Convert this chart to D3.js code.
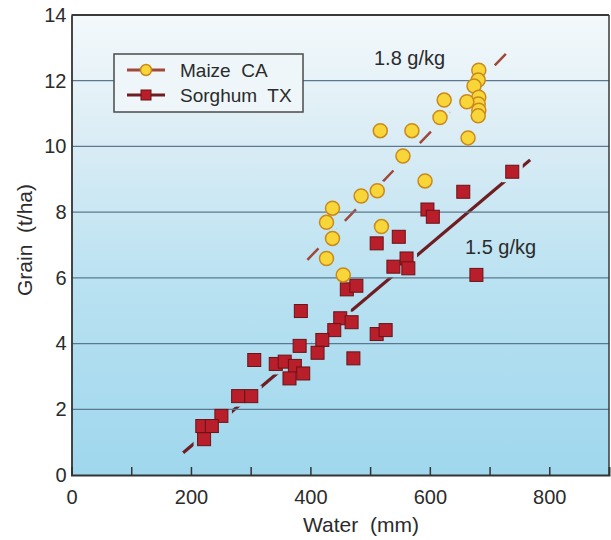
<!DOCTYPE html>
<html><head><meta charset="utf-8">
<script src="https://cdn.jsdelivr.net/npm/d3@7"></script>
<style>
html,body{margin:0;padding:0;background:#fff;}
svg text{font-family:"Liberation Sans",Arial,Helvetica,sans-serif;fill:#2b2b2b;white-space:pre;}
</style></head>
<body>
<svg id="c" width="611" height="540"></svg>
<script>
// ---- data ----
const maizeWater = [682,681,674,682,681,682,681,662,624,617,517,570,555,664,592,512,485,437,427,437,427,519,455];
const maizeGrain = [12.32,12.02,11.84,11.5,11.29,11.1,10.93,11.36,11.41,10.88,10.48,10.48,9.71,10.26,8.95,8.65,8.49,8.12,7.69,7.20,6.59,7.56,6.09];
const sorghumWater = [738,656,596,605,548,511,561,539,564,678,461,477,384,450,469,440,420,412,382,472,511,526,306,342,357,374,388,365,279,301,251,219,235,222];
const sorghumGrain = [9.23,8.62,8.08,7.86,7.25,7.05,6.59,6.34,6.29,6.09,5.65,5.76,4.99,4.77,4.65,4.41,4.11,3.72,3.93,3.55,4.29,4.41,3.50,3.38,3.45,3.32,3.09,2.94,2.40,2.40,1.80,1.49,1.49,1.09];
const maizeLineWater = [395,737];
const maizeLineGrain = [6.55,13.0];
const sorghumLineWater = [187,768];
const sorghumLineGrain = [0.68,9.59];
const xTickLabels = [0,200,400,600,800];
const xTickMarks = [100,200,300,400,500,600,700,800];
const yTicks = [0,2,4,6,8,10,12,14];
const yGrid = [2,4,6,8,10,12];
const seriesNames = ["Maize  CA","Sorghum  TX"];
const lineLabels = ["1.8 g/kg","1.5 g/kg"];

const svg = d3.select("#c");
const x = d3.scaleLinear().domain([0,900]).range([71.5,609]);
const y = d3.scaleLinear().domain([0,14]).range([475,15]);

const defs = svg.append("defs");
const g = defs.append("linearGradient").attr("id","bg").attr("gradientUnits","userSpaceOnUse")
  .attr("x1",0).attr("x2",0).attr("y1",y(14)).attr("y2",y(0));
g.append("stop").attr("offset","0%").attr("stop-color","#f4f9fb");
g.append("stop").attr("offset","25%").attr("stop-color","#dcedf5");
g.append("stop").attr("offset","60%").attr("stop-color","#b8e1f1");
g.append("stop").attr("offset","100%").attr("stop-color","#9fd7ed");

// plot background
svg.append("rect").attr("x",x(0)).attr("y",y(14)).attr("width",x(900)-x(0)).attr("height",y(0)-y(14)).attr("fill","url(#bg)");

// fit lines
const maizeColor = "#a0483a", sorghumColor = "#6e1e22";
svg.append("line").attr("x1",x(maizeLineWater[0])).attr("y1",y(maizeLineGrain[0]))
  .attr("x2",x(maizeLineWater[1])).attr("y2",y(maizeLineGrain[1]))
  .attr("stroke",maizeColor).attr("stroke-width",2.5).attr("stroke-dasharray","16,11");
svg.append("line").attr("x1",x(sorghumLineWater[0])).attr("y1",y(sorghumLineGrain[0]))
  .attr("x2",x(sorghumLineWater[1])).attr("y2",y(sorghumLineGrain[1]))
  .attr("stroke",sorghumColor).attr("stroke-width",3.2);

const maize = maizeWater.map((w,i)=>({w,g:maizeGrain[i]}));
const sorghum = sorghumWater.map((w,i)=>({w,g:sorghumGrain[i]}));
const sq = 13, r = 7;

// halos
svg.append("g").selectAll("rect").data(sorghum).join("rect")
  .attr("x",d=>x(d.w)-sq/2-4).attr("y",d=>y(d.g)-sq/2-4).attr("width",sq+8).attr("height",sq+8).attr("fill","url(#bg)");
svg.append("g").selectAll("circle").data(maize).join("circle")
  .attr("cx",d=>x(d.w)).attr("cy",d=>y(d.g)).attr("r",r+4).attr("fill","url(#bg)");

// gridlines
svg.append("g").selectAll("line").data(yGrid).join("line")
  .attr("x1",x(0)).attr("x2",x(900)).attr("y1",d=>y(d)).attr("y2",d=>y(d))
  .attr("stroke","#5b7890").attr("stroke-width",1.2);

// frame
svg.append("line").attr("x1",x(0)).attr("x2",x(900)).attr("y1",y(14)).attr("y2",y(14)).attr("stroke","#3a3a3a").attr("stroke-width",1.8);
svg.append("line").attr("x1",x(900)).attr("x2",x(900)).attr("y1",y(14)).attr("y2",y(0)).attr("stroke","#3a3a3a").attr("stroke-width",1.5);

// axes
const xa = svg.append("g").attr("transform",`translate(0,${y(0)})`)
  .call(d3.axisBottom(x).tickValues(xTickMarks).tickSize(-8).tickFormat(""));
xa.select(".domain").attr("stroke","#333").attr("stroke-width",2);
xa.selectAll(".tick line").attr("stroke","#333").attr("stroke-width",1.5);
const xl = svg.append("g").attr("transform",`translate(0,${y(0)})`)
  .call(d3.axisBottom(x).tickValues(xTickLabels).tickSize(0).tickPadding(15).tickFormat(d3.format("d")));
xl.select(".domain").remove();
xl.selectAll("text").attr("font-size",20).style("font-family","Liberation Sans, Arial, sans-serif").attr("fill","#2b2b2b");

const ya = svg.append("g").attr("transform",`translate(${x(0)},0)`)
  .call(d3.axisLeft(y).tickValues(yTicks).tickSize(0).tickPadding(5).tickFormat(d3.format("d")));
ya.select(".domain").attr("stroke","#333").attr("stroke-width",1.8);
ya.selectAll("text").attr("font-size",20).style("font-family","Liberation Sans, Arial, sans-serif").attr("fill","#2b2b2b");

// markers
svg.append("g").selectAll("rect").data(sorghum).join("rect")
  .attr("x",d=>x(d.w)-sq/2).attr("y",d=>y(d.g)-sq/2).attr("width",sq).attr("height",sq)
  .attr("fill","#b81f2b").attr("stroke","#6a1216").attr("stroke-width",1);
svg.append("g").selectAll("circle").data(maize).join("circle")
  .attr("cx",d=>x(d.w)).attr("cy",d=>y(d.g)).attr("r",r)
  .attr("fill","#f8d538").attr("stroke","#c98a1c").attr("stroke-width",1.5);

// axis titles
svg.append("text").attr("x",361).attr("y",532).attr("text-anchor","middle").attr("font-size",21).text("Water  (mm)");
svg.append("text").attr("transform","translate(32,240) rotate(-90)").attr("text-anchor","middle").attr("font-size",21).text("Grain  (t/ha)");

// line labels
svg.append("text").attr("x",374).attr("y",65).attr("font-size",20).text(lineLabels[0]);
svg.append("text").attr("x",465).attr("y",254).attr("font-size",20).text(lineLabels[1]);

// legend
const lg = svg.append("g");
lg.append("rect").attr("x",114).attr("y",54).attr("width",189).attr("height",58)
  .attr("fill","#eef6f9").attr("stroke","#4a4a4a").attr("stroke-width",1.5);
lg.append("line").attr("x1",127).attr("x2",165).attr("y1",70).attr("y2",70).attr("stroke",maizeColor).attr("stroke-width",3);
lg.append("circle").attr("cx",146).attr("cy",70).attr("r",5.5).attr("fill","#f8d538").attr("stroke","#c98a1c").attr("stroke-width",1.5);
lg.append("line").attr("x1",127).attr("x2",165).attr("y1",95).attr("y2",95).attr("stroke",sorghumColor).attr("stroke-width",3);
lg.append("rect").attr("x",146-5).attr("y",95-5).attr("width",10).attr("height",10).attr("fill","#b81f2b").attr("stroke","#6a1216");
lg.append("text").attr("x",180).attr("y",77).attr("font-size",19).text(seriesNames[0]);
lg.append("text").attr("x",180).attr("y",102).attr("font-size",19).text(seriesNames[1]);
</script>
</body></html>
